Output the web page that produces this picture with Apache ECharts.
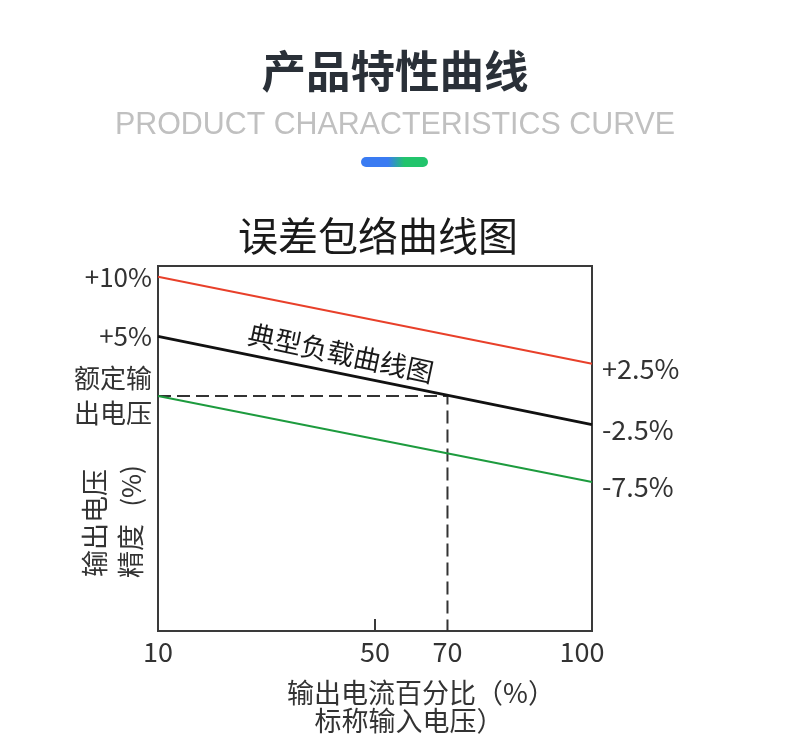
<!DOCTYPE html>
<html>
<head>
<meta charset="utf-8">
<script src="https://cdn.jsdelivr.net/npm/echarts@6/dist/echarts.min.js"></script>
<style>
html,body{margin:0;padding:0;background:#fff;}
#chart{width:790px;height:755px;}
</style>
</head>
<body>
<div id="chart"></div>
<script>
// ---- data ----
const xEnds = [10, 100];                 // output current % at line ends
const redVals = [10, 2.7];               // upper envelope
const blackVals = [5, -2.4];             // typical load curve
const greenVals = [0, -7.2];             // lower envelope
const refX = [10, 70, 70];               // dashed reference path (current %)
const refY = [0, 0, -19.7];              // dashed reference path (voltage %)
const xTickLabels = [10, 50, 70, 100];
const xTickMarks = [50];
const leftTickValues = [10, 5, 0];
const leftTickLabels = ['+10%', '+5%', '额定输\n出电压'];
const rightLabels = ['+2.5%', '-2.5%', '-7.5%'];
const annotation = { x: 43.7, y: 3.6, text: '典型负载曲线图' };

// schematic (piecewise) x scale of the drawing
const xScaleDomain = [10, 50, 70, 100];
const xScaleRange = [0, 50, 66.7, 100];
function toAxis(v) {
  for (let i = 0; i < xScaleDomain.length - 1; i++) {
    const d0 = xScaleDomain[i], d1 = xScaleDomain[i + 1];
    if (v <= d1 || i === xScaleDomain.length - 2) {
      const r0 = xScaleRange[i], r1 = xScaleRange[i + 1];
      return r0 + (v - d0) / (d1 - d0) * (r1 - r0);
    }
  }
}
function fromAxis(a) {
  for (let i = 0; i < xScaleRange.length - 1; i++) {
    const r0 = xScaleRange[i], r1 = xScaleRange[i + 1];
    if (a <= r1 + 1e-9 || i === xScaleRange.length - 2) {
      const d0 = xScaleDomain[i], d1 = xScaleDomain[i + 1];
      return d0 + (a - r0) / (r1 - r0) * (d1 - d0);
    }
  }
}
const pts = (xs, ys) => xs.map((x, i) => [toAxis(x), ys[i]]);

const CJK = '"Noto Sans CJK SC", "Noto Sans", sans-serif';
const chart = echarts.init(document.getElementById('chart'), null, { renderer: 'canvas' });

function lineSeries(name, vals, color, width, idx) {
  return {
    name: name,
    type: 'line',
    data: pts(xEnds, vals),
    symbol: 'none',
    silent: true,
    lineStyle: { color: color, width: width },
    endLabel: {
      show: true,
      formatter: () => rightLabels[idx],
      color: '#333',
      fontSize: 27,
      fontFamily: CJK,
      distance: 10,
      offset: [0, 5]
    },
    z: 3
  };
}

chart.setOption({
  backgroundColor: '#fff',
  animation: false,
  grid: {
    left: 158, right: 198, top: 266, bottom: 124,
    show: true, borderColor: '#3a3a3a', borderWidth: 2, backgroundColor: 'transparent'
  },
  xAxis: {
    type: 'value', min: 0, max: 100,
    axisLine: { show: false, onZero: false },
    splitLine: { show: false },
    axisTick: {
      show: true, inside: true, length: 12,
      customValues: xTickMarks.map(toAxis),
      lineStyle: { color: '#3a3a3a', width: 2 }
    },
    axisLabel: {
      customValues: xTickLabels.map(toAxis),
      formatter: v => {
        const n = Math.round(fromAxis(v));
        return n === xTickLabels[xTickLabels.length - 1] ? '{last|' + n + '}' : String(n);
      },
      rich: { last: { padding: [0, 20, 0, 0], fontSize: 27, fontFamily: CJK, color: '#333' } },
      color: '#333', fontSize: 27, fontFamily: CJK, margin: 7
    }
  },
  yAxis: {
    type: 'value', min: -19.7, max: 10.9,
    axisLine: { show: false },
    axisTick: { show: false },
    splitLine: { show: false },
    axisLabel: {
      customValues: leftTickValues,
      formatter: v => leftTickLabels[leftTickValues.indexOf(v)],
      color: '#333', fontSize: 26, fontFamily: CJK, margin: 6, lineHeight: 35
    }
  },
  series: [
    lineSeries('upper', redVals, '#e8402a', 2, 0),
    lineSeries('typical', blackVals, '#111111', 3, 1),
    lineSeries('lower', greenVals, '#1d9b3e', 2, 2),
    {
      name: 'ref', type: 'line', symbol: 'none', silent: true,
      data: pts(refX, refY),
      lineStyle: { color: '#333', width: 2, type: [13, 6] },
      z: 2
    },
    {
      name: 'annotation', type: 'scatter', silent: true,
      symbolSize: 0,
      itemStyle: { opacity: 1 },
      data: [[toAxis(annotation.x), annotation.y]],
      label: {
        show: true, position: 'inside', rotate: -12,
        formatter: annotation.text,
        color: '#1a1a1a', opacity: 1, fontSize: 27, fontFamily: CJK
      },
      z: 4
    }
  ],
  graphic: [
    { type: 'text', x: 395, y: 71, style: { text: '产品特性曲线', fill: '#2a3038', font: 'bold 44.5px ' + CJK, align: 'center', verticalAlign: 'middle' } },
    { type: 'text', x: 395, y: 125, scaleX: 0.95, style: { text: 'PRODUCT CHARACTERISTICS CURVE', fill: '#c0c0c0', font: '32px "Liberation Sans", Arial, sans-serif', align: 'center', verticalAlign: 'middle' } },
    { type: 'rect', shape: { x: 361, y: 157, width: 67, height: 10, r: 5 },
      style: { fill: new echarts.graphic.LinearGradient(0, 0, 1, 0, [
        { offset: 0, color: '#3a7bf2' }, { offset: 0.4, color: '#3a7bf2' },
        { offset: 0.65, color: '#22c46c' }, { offset: 1, color: '#22c46c' }]) } },
    { type: 'text', x: 378, y: 236, style: { text: '误差包络曲线图', fill: '#1a1a1a', font: '40px ' + CJK, align: 'center', verticalAlign: 'middle' } },
    { type: 'text', x: 95, y: 523, rotation: Math.PI / 2, style: { text: '输出电压', fill: '#333', font: '27px ' + CJK, align: 'center', verticalAlign: 'middle' } },
    { type: 'text', x: 131, y: 551, rotation: Math.PI / 2, style: { text: '精度', fill: '#333', font: '27px ' + CJK, align: 'center', verticalAlign: 'middle' } },
    { type: 'text', x: 131, y: 486, rotation: Math.PI / 2, style: { text: '(%)', fill: '#333', font: '26px ' + CJK, align: 'center', verticalAlign: 'middle' } },
    { type: 'text', x: 421, y: 693, style: { text: '输出电流百分比（%）', fill: '#333', font: '27px ' + CJK, align: 'center', verticalAlign: 'middle' } },
    { type: 'text', x: 409, y: 721, style: { text: '标称输入电压）', fill: '#333', font: '27px ' + CJK, align: 'center', verticalAlign: 'middle' } }
  ]
});
</script>
</body>
</html>
